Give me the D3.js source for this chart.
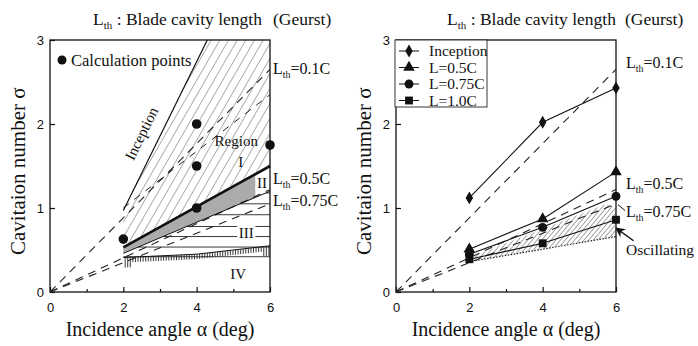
<!DOCTYPE html>
<html><head><meta charset="utf-8">
<script src="https://cdn.jsdelivr.net/npm/d3@7"></script>
<style>body{margin:0;background:#fff}text{fill:#111}</style>
</head><body>
<svg id="c" width="698" height="346" xmlns="http://www.w3.org/2000/svg"></svg>
<script>
// ---------------- data ----------------
const xTicks = [0, 2, 4, 6];
const xMinorTicks = [1, 3, 5];
const yTicks = [0, 1, 2, 3];
const lthNames = ["0.1C", "0.5C", "0.75C"];
const lthEndSigma = [2.65, 1.22, 1.05];          // Geurst lines from origin to alpha=6
// left panel
const calcAlpha = [2, 4, 4, 4, 6];
const calcSigma = [0.63, 2.0, 1.5, 1.0, 1.75];
const inceptionLineL = [[2, 0.97], [4.29, 3]];
const extraDashL = [[2, 1.0], [6, 2.35]];
const regionI = [[2, 0.53], [2, 0.97], [4.29, 3], [6, 3], [6, 1.5]];
const bandTop = [[2, 0.53], [6, 1.5]];
const bandBottom = [[2, 0.46], [6, 1.2]];
const bandEndAlpha = 5.6;
const regionIIILevels = [0.42, 0.535, 0.66, 0.78, 0.92, 1.05, 1.18];
const regionIVTop = [[2, 0.41], [4, 0.45], [6, 0.55]];
// right panel
const alphaR = [2, 4, 6];
const seriesNames = ["Inception", "L=0.5C", "L=0.75C", "L=1.0C"];
const inceptionR = [1.12, 2.02, 2.43];
const l05R = [0.51, 0.87, 1.43];
const l075R = [0.45, 0.77, 1.14];
const l10R = [0.39, 0.58, 0.86];
const oscHatch = [[2, 0.41], [5.75, 1.05], [6, 1.0], [6, 0.66], [2, 0.36]];
const oscLower = [[2, 0.36], [6, 0.66]];

// ---------------- drawing ----------------
const svg = d3.select("#c");
const defs = svg.append("defs");
function hatch(id, gap, angle, w) {
  const p = defs.append("pattern").attr("id", id).attr("patternUnits", "userSpaceOnUse")
    .attr("width", gap).attr("height", 20).attr("patternTransform", `rotate(${angle})`);
  p.append("line").attr("x1", 0).attr("y1", 0).attr("x2", 0).attr("y2", 20)
    .attr("stroke", "#222").attr("stroke-width", w);
}
hatch("hL", 7.5, 30, 0.75);
hatch("hR", 3.6, 40, 0.85);
const serif = "'Liberation Serif','Times New Roman',serif";
const sans = "'Liberation Sans',Arial,sans-serif";

function lth(g, px, py, name, fs) {
  const t = g.append("text").attr("x", px).attr("y", py).attr("font-family", serif).attr("font-size", fs);
  t.append("tspan").text("L");
  t.append("tspan").attr("dy", 4).attr("font-size", fs * 0.62).text("th");
  t.append("tspan").attr("dy", -4).text(name);
  return t;
}

function panel(ox, titleX, geurstX) {
  const x = d3.scaleLinear([0, 6], [ox, ox + 220]);
  const y = d3.scaleLinear([0, 3], [292, 40]);
  const g = svg.append("g");
  const line = d3.line().x(d => x(d[0])).y(d => y(d[1]));
  // title
  const t = g.append("text").attr("x", titleX).attr("y", 25).attr("font-family", serif).attr("font-size", 17.5);
  t.append("tspan").text("L");
  t.append("tspan").attr("dy", 4).attr("font-size", 11).text("th");
  t.append("tspan").attr("dy", -4).text(" : Blade cavity length");
  g.append("text").attr("x", geurstX).attr("y", 25).attr("font-family", serif).attr("font-size", 17.5).text("(Geurst)");
  // axes
  g.append("g").attr("transform", `translate(0,${y(0)})`)
    .call(d3.axisBottom(x).tickValues(xTicks).tickSize(-5).tickPadding(11).tickFormat(d3.format("d")));
  g.append("g").attr("transform", `translate(0,${y(0)})`)
    .call(d3.axisBottom(x).tickValues(xMinorTicks).tickSize(-3).tickFormat(""));
  g.append("g").attr("transform", `translate(${x(0)},0)`)
    .call(d3.axisLeft(y).tickValues(yTicks).tickSize(-5).tickPadding(6).tickFormat(d3.format("d")));
  g.selectAll(".domain").remove();
  g.selectAll(".tick line").attr("stroke", "#111").attr("stroke-width", 1.2);
  g.selectAll(".tick text").attr("font-family", sans).attr("font-size", 13).attr("fill", "#111");
  g.append("rect").attr("x", x(0)).attr("y", y(3)).attr("width", x(6) - x(0)).attr("height", y(0) - y(3))
    .attr("fill", "none").attr("stroke", "#111").attr("stroke-width", 1.3);
  // axis titles
  g.append("text").attr("x", x(3)).attr("y", 336).attr("text-anchor", "middle")
    .attr("font-family", serif).attr("font-size", 20).text("Incidence angle α (deg)");
  g.append("text").attr("transform", `translate(${ox - 25},${y(0.44)}) rotate(-90)`).attr("text-anchor", "start")
    .attr("font-family", serif).attr("font-size", 21).text("Cavitaion number  σ");
  return {g, x, y, line};
}

// ===== Left panel =====
{
  const {g, x, y, line} = panel(50, 93, 273);
  // Region I hatch
  g.append("path").attr("d", line(regionI) + "Z").attr("fill", "url(#hL)");
  // region II band
  const topAt = a => bandTop[0][1] + (bandTop[1][1] - bandTop[0][1]) * (a - 2) / 4;
  const botAt = a => bandBottom[0][1] + (bandBottom[1][1] - bandBottom[0][1]) * (a - 2) / 4;
  g.append("path").attr("d", line([[2, topAt(2)], [bandEndAlpha, topAt(bandEndAlpha)], [bandEndAlpha, botAt(bandEndAlpha)], [2, botAt(2)]]) + "Z")
    .attr("fill", "#ababab");
  // Region III horizontal lines
  regionIIILevels.forEach(l => {
    const a0 = Math.max(2, 2 + (l - bandBottom[0][1]) / ((bandBottom[1][1] - bandBottom[0][1]) / 4));
    g.append("line").attr("x1", x(a0)).attr("x2", x(6)).attr("y1", y(l)).attr("y2", y(l))
      .attr("stroke", "#222").attr("stroke-width", 0.9);
  });
  // Geurst dashed lines
  lthEndSigma.forEach(s => {
    g.append("path").attr("d", line([[0, 0], [6, s]])).attr("fill", "none")
      .attr("stroke", "#222").attr("stroke-width", 1.1).attr("stroke-dasharray", "8,6");
  });
  g.append("path").attr("d", line(extraDashL)).attr("fill", "none")
    .attr("stroke", "#222").attr("stroke-width", 1).attr("stroke-dasharray", "7,7");
  // band boundaries
  g.append("path").attr("d", line(bandTop)).attr("stroke", "#111").attr("stroke-width", 2.6).attr("fill", "none");
  g.append("path").attr("d", line(bandBottom)).attr("stroke", "#111").attr("stroke-width", 1).attr("fill", "none");
  // inception
  g.append("path").attr("d", line(inceptionLineL)).attr("stroke", "#111").attr("stroke-width", 1.2).attr("fill", "none");
  // Region IV comb
  g.append("path").attr("d", line(regionIVTop)).attr("stroke", "#111").attr("stroke-width", 1).attr("fill", "none");
  const ivAt = a => a <= 4 ? regionIVTop[0][1] + (regionIVTop[1][1] - regionIVTop[0][1]) * (a - 2) / 2
                            : regionIVTop[1][1] + (regionIVTop[2][1] - regionIVTop[1][1]) * (a - 4) / 2;
  d3.range(2.05, 5.99, 0.07).forEach(a => {
    const long = a < 2.25 || a > 5.78;
    g.append("line").attr("x1", x(a)).attr("x2", x(a)).attr("y1", y(ivAt(a))).attr("y2", y(ivAt(a)) + (long ? 10 : 5))
      .attr("stroke", "#222").attr("stroke-width", 0.9);
  });
  // calculation points
  g.selectAll("circle.cp").data(calcAlpha).join("circle").attr("class", "cp")
    .attr("cx", (d, i) => x(d)).attr("cy", (d, i) => y(calcSigma[i])).attr("r", 4.8).attr("fill", "#111");
  g.append("circle").attr("cx", 62).attr("cy", 60).attr("r", 4.5).attr("fill", "#111");
  g.append("text").attr("x", 71).attr("y", 65.5).attr("font-family", serif).attr("font-size", 16.5)
    .attr("fill", "#111").text("Calculation points");
  // labels
  const ang = Math.atan2(y(inceptionLineL[1][1]) - y(inceptionLineL[0][1]), x(inceptionLineL[1][0]) - x(inceptionLineL[0][0])) * 180 / Math.PI;
  g.append("text").attr("transform", `translate(${x(2.62)},${y(1.86)}) rotate(${ang})`).attr("text-anchor", "middle")
    .attr("font-family", serif).attr("font-size", 15).text("Inception");
  const halo = s => s.attr("stroke", "#fff").attr("stroke-width", 4).attr("paint-order", "stroke");
  g.append("text").attr("x", x(5.08)).attr("y", y(1.74)).attr("text-anchor", "middle").attr("font-family", serif).attr("font-size", 15).text("Region");
  g.append("text").attr("x", x(5.2)).attr("y", y(1.49)).attr("text-anchor", "middle").attr("font-family", serif).attr("font-size", 15).text("I");
  halo(g.append("text").attr("x", x(5.78)).attr("y", y(1.24)).attr("text-anchor", "middle").attr("font-family", serif).attr("font-size", 15).text("II"));
  halo(g.append("text").attr("x", x(5.35)).attr("y", y(0.64)).attr("text-anchor", "middle").attr("font-family", serif).attr("font-size", 15).text("III"));
  g.append("text").attr("x", x(5.13)).attr("y", y(0.15)).attr("text-anchor", "middle").attr("font-family", serif).attr("font-size", 15).text("IV");
  const ly = [2.65, 1.34, 1.08];
  lthNames.forEach((n, i) => lth(g, x(6) + 3, y(ly[i]) + 5, "=" + n, 16));
}

// ===== Right panel =====
{
  const {g, x, y, line} = panel(396, 447, 625);
  g.append("path").attr("d", line(oscHatch) + "Z").attr("fill", "url(#hR)");
  g.append("path").attr("d", line(oscLower)).attr("fill", "none").attr("stroke", "#222")
    .attr("stroke-width", 1.2).attr("stroke-dasharray", "1.5,1.5");
  lthEndSigma.forEach(s => {
    g.append("path").attr("d", line([[0, 0], [6, s]])).attr("fill", "none")
      .attr("stroke", "#222").attr("stroke-width", 1.1).attr("stroke-dasharray", "8,6");
  });
  const series = [inceptionR, l05R, l075R, l10R];
  const syms = [d3.symbolDiamond, d3.symbolTriangle, d3.symbolCircle, d3.symbolSquare];
  const sizes = [48, 58, 62, 62];
  series.forEach((s, k) => {
    const pts = alphaR.map((a, i) => [a, s[i]]);
    g.append("path").attr("d", line(pts)).attr("fill", "none").attr("stroke", "#111").attr("stroke-width", 1.1);
    g.selectAll(null).data(pts).join("path")
      .attr("transform", d => `translate(${x(d[0])},${y(d[1])})`)
      .attr("d", d3.symbol(syms[k], sizes[k])).attr("fill", "#111");
  });
  // legend
  const lg = g.append("g");
  lg.append("rect").attr("x", 395).attr("y", 40).attr("width", 92).attr("height", 67)
    .attr("fill", "#fff").attr("stroke", "#222").attr("stroke-width", 0.9);
  seriesNames.forEach((n, k) => {
    const yy = 51 + k * 16.5;
    lg.append("line").attr("x1", 399).attr("x2", 419).attr("y1", yy).attr("y2", yy).attr("stroke", "#111");
    lg.append("path").attr("transform", `translate(409,${yy})`).attr("d", d3.symbol(syms[k], sizes[k])).attr("fill", "#111");
    lg.append("text").attr("x", 429).attr("y", yy + 5).attr("font-family", serif).attr("font-size", 15.5).text(n);
  });
  const ly = [2.73, 1.29, 0.95];
  lthNames.forEach((n, i) => lth(g, x(6) + 10, y(ly[i]) + 5, "=" + n, 16));
  // leader for 0.75C
  g.append("line").attr("x1", x(6) + 2).attr("y1", y(1.04)).attr("x2", x(6) + 9).attr("y2", y(0.97)).attr("stroke", "#111");
  // oscillating arrow
  defs.append("marker").attr("id", "arr").attr("viewBox", "0 0 10 10").attr("refX", 9).attr("refY", 5)
    .attr("markerWidth", 7).attr("markerHeight", 7).attr("orient", "auto")
    .append("path").attr("d", "M0,0L10,5L0,10L3,5Z").attr("fill", "#111");
  g.append("line").attr("x1", x(6.48)).attr("y1", y(0.61)).attr("x2", x(6)).attr("y2", y(0.76))
    .attr("stroke", "#111").attr("stroke-width", 1.4).attr("marker-end", "url(#arr)");
  g.append("text").attr("x", x(6) + 10).attr("y", 255).attr("font-family", serif).attr("font-size", 15.5).text("Oscillating");
}
</script>
</body></html>
